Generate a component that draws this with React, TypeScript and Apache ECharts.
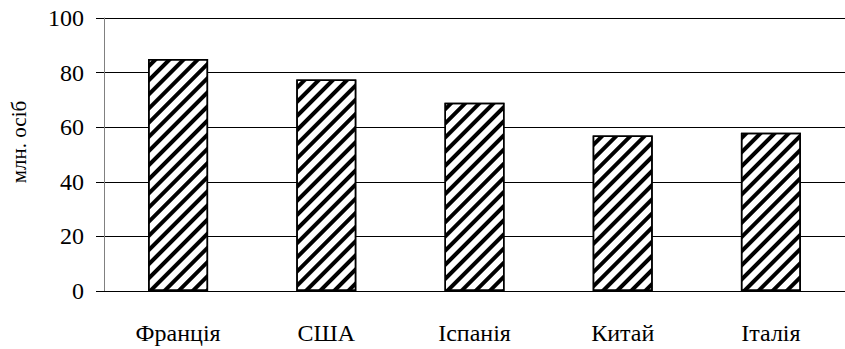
import React, { useEffect, useRef } from "react";
import * as echarts from "echarts";

// Tourist arrivals by country, millions of people
const countries = ["Франція", "США", "Іспанія", "Китай", "Італія"];
const arrivals = [85, 77.5, 69, 57, 58];
const yTicks = [0, 20, 40, 60, 80, 100];
const yAxisTitle = "млн. осіб";

const FONT = "Liberation Serif";

export default function App() {
  const ref = useRef<HTMLDivElement>(null);

  useEffect(() => {
    if (!ref.current) return;
    const chart = echarts.init(ref.current, null, { renderer: "svg" });
    chart.setOption({
      animation: false,
      backgroundColor: "#fff",
      textStyle: { fontFamily: FONT, color: "#000" },
      grid: { left: 104, right: 0, top: 18, bottom: 58 },
      xAxis: {
        type: "category",
        data: countries,
        axisLine: { show: true, lineStyle: { color: "#000", width: 1 } },
        axisTick: { show: false },
        axisLabel: { color: "#000", fontFamily: FONT, fontSize: 24, margin: 30 },
      },
      yAxis: {
        type: "value",
        min: yTicks[0],
        max: yTicks[yTicks.length - 1],
        interval: 20,
        axisLine: { show: true, lineStyle: { color: "#808080", width: 1 } },
        axisTick: { show: true, inside: false, length: 8, lineStyle: { color: "#000" } },
        axisLabel: { color: "#000", fontFamily: FONT, fontSize: 24, margin: 20 },
        splitLine: { show: true, lineStyle: { color: "#000", width: 1 } },
      },
      graphic: [
        {
          type: "text",
          x: 19,
          y: 142,
          rotation: Math.PI / 2,
          style: {
            text: yAxisTitle,
            fontFamily: FONT,
            fontSize: 21,
            fill: "#000",
            align: "center",
            verticalAlign: "middle",
          },
        },
      ],
      series: [
        {
          type: "bar",
          data: arrivals,
          barWidth: 60,
          itemStyle: {
            color: "#fff",
            borderColor: "#000",
            borderWidth: 1.5,
            decal: {
              symbol: "rect",
              symbolSize: 1,
              color: "#000",
              backgroundColor: "#fff",
              dashArrayX: [1, 0],
              dashArrayY: [4, 5.5],
              rotation: -Math.PI / 4,
            },
          },
        },
      ],
    });
    return () => chart.dispose();
  }, []);

  return (
    <div
      ref={ref}
      style={{ position: "absolute", left: 0, top: 0, width: 845, height: 349 }}
    />
  );
}
